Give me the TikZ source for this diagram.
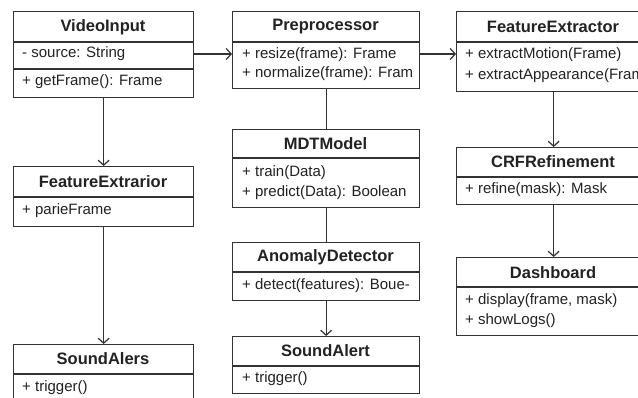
\documentclass[tikz,border=0pt]{standalone}
\usepackage{fontspec}
\setmainfont{Liberation Sans}
\usetikzlibrary{arrows.meta}
\definecolor{ln}{HTML}{333333}
\definecolor{tx}{HTML}{222222}
\begin{document}
\begin{tikzpicture}[x=1pt,y=-1pt,
  box/.style={draw=ln,line width=1.3pt,rectangle,inner sep=0pt,anchor=north west},
  ttl/.style={font=\fontsize{16.5}{18}\selectfont\bfseries,text=tx,inner sep=0pt},
  mem/.style={font=\fontsize{15}{17}\selectfont,text=tx,inner sep=0pt,anchor=west},
  div/.style={draw=ln,line width=1.2pt},
  conn/.style={draw=ln,line width=1.3pt},
  arr/.style={conn,-{Straight Barb[length=5pt,width=11pt,line width=1.2pt]}}]
\useasboundingbox (0,0) rectangle (638,397);
\clip (0,0) rectangle (638,397);
\fill[white] (0,0) rectangle (638,397);

% VideoInput
\node[box,minimum width=180pt,minimum height=86pt] (vi) at (13,11) {};
\draw[div] (13,42) -- (193,42);
\draw[div] (13,69) -- (193,69);
\node[ttl] (vit) at (103,27) {VideoInput};
\node[mem] (vim1) at (22,54) {- source: String};
\node[mem] (vim2) at (22,82) {+ getFrame(): Frame};

% Preprocessor
\node[box,minimum width=187pt,minimum height=77pt] (pp) at (232,11) {};
\draw[div] (232,42) -- (419,42);
\node[ttl] (ppt) at (325.5,27) {Preprocessor};
\node[mem] (ppm1) at (242,55) {+ resize(frame): Frame};
\node[mem] (ppm2) at (242,73.5) {+ normalize(frame): Fram};

% FeatureExtractor
\node[box,minimum width=194pt,minimum height=80pt] (fx) at (456,11) {};
\draw[div] (456,42) -- (650,42);
\node[ttl] (fxt) at (553,27) {FeatureExtractor};
\node[mem] (fxm1) at (465,55) {+ extractMotion(Frame)};
\node[mem] (fxm2) at (465,76) {+ extractAppearance(Fram};

% FeatureExtrarior
\node[box,minimum width=180pt,minimum height=60pt] (fr) at (13,166) {};
\draw[div] (13,197) -- (193,197);
\node[ttl] (frt) at (103,182) {FeatureExtrarior};
\node[mem] (frm1) at (22,211) {+ parieFrame};

% SoundAlers
\node[box,minimum width=180pt,minimum height=62pt] (sa1) at (13,344) {};
\draw[div] (13,374) -- (193,374);
\node[ttl] (sa1t) at (103,359) {SoundAlers};
\node[mem] (sa1m) at (22,388) {+ trigger()};

% MDTModel
\node[box,minimum width=187pt,minimum height=78pt] (md) at (232,129) {};
\draw[div] (232,158) -- (419,158);
\node[ttl] (mdt) at (325.5,144) {MDTModel};
\node[mem] (mdm1) at (242,173) {+ train(Data)};
\node[mem] (mdm2) at (242,193) {+ predict(Data): Boolean};

% AnomalyDetector
\node[box,minimum width=187pt,minimum height=58pt] (ad) at (232,242) {};
\draw[div] (232,272) -- (419,272);
\node[ttl] (adt) at (325.5,257) {AnomalyDetector};
\node[mem] (adm) at (242,286) {+ detect(features): Boue-};

% SoundAlert
\node[box,minimum width=187pt,minimum height=57pt] (sa2) at (232,336) {};
\draw[div] (232,366) -- (419,366);
\node[ttl] (sa2t) at (325.5,351) {SoundAlert};
\node[mem] (sa2m) at (242,378.5) {+ trigger()};

% CRFRefinement
\node[box,minimum width=194pt,minimum height=57pt] (crf) at (456,147) {};
\draw[div] (456,177) -- (650,177);
\node[ttl] (crft) at (553,162) {CRFRefinement};
\node[mem] (crfm) at (465,190) {+ refine(mask): Mask};

% Dashboard
\node[box,minimum width=194pt,minimum height=78pt] (db) at (456,257) {};
\draw[div] (456,287) -- (650,287);
\node[ttl] (dbt) at (553,273) {Dashboard};
\node[mem] (dbm1) at (465,301) {+ display(frame, mask)};
\node[mem] (dbm2) at (465,321) {+ showLogs()};

% connectors
\coordinate (h1) at (193,54);
\coordinate (h2) at (419,54);
\draw[arr] (vi.east |- h1) -- (pp.west |- h1);
\draw[arr] (pp.east |- h2) -- (fx.west |- h2);
\draw[arr] (vi.south) -- (fr.north);
\draw[arr] (fr.south) -- (sa1.north);
\draw[conn] (pp.south) -- (md.north);
\draw[conn] (md.south) -- (ad.north);
\draw[arr] (ad.south) -- (sa2.north);
\draw[arr] (fx.south) -- (crf.north);
\draw[arr] (crf.south) -- (db.north);
\end{tikzpicture}
\end{document}
